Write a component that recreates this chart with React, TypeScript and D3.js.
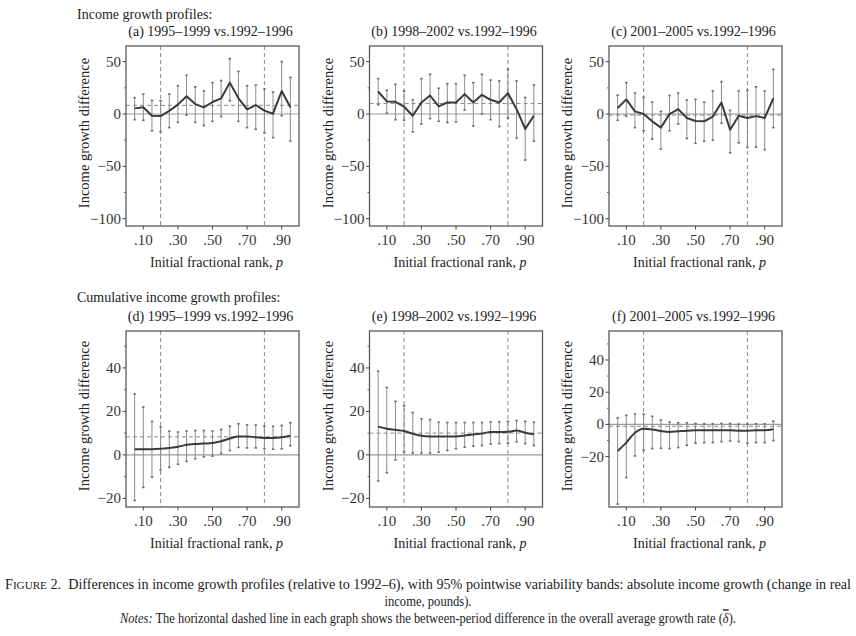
import React from "react";
import * as d3 from "d3";

// ranks p at which the profiles are evaluated
const ranks = [0.05, 0.1, 0.15, 0.2, 0.25, 0.3, 0.35, 0.4, 0.45, 0.5, 0.55, 0.6, 0.65, 0.7, 0.75, 0.8, 0.85, 0.9, 0.95];
const xTicks = [0.1, 0.3, 0.5, 0.7, 0.9];

// (a) 1995-1999 vs 1992-1996
const aMid = [5.4, 6.4, -1.6, -2, 3, 9, 17, 9.5, 6.4, 11.5, 15, 30, 15, 4.5, 8.6, 3.2, 0.3, 22, 6.4];
const aHi = [15.6, 19, 13, 12.7, 19, 27, 37, 26, 22, 30, 32, 53, 40.7, 27, 27.7, 24, 21, 50, 35];
const aLo = [-5.4, -6, -16, -17, -13, -8, -1, -8, -11, -7, -2.5, 12.7, -7, -13, -14.6, -18, -22.6, -1.6, -25.8];

// (b) 1998-2002 vs 1992-1996
const bMid = [21.5, 12, 11.7, 7, -1.6, 11, 17.7, 7.3, 11, 11, 19, 11, 18.3, 13.6, 11, 20, 4.7, -14.2, -1.6];
const bHi = [33.8, 22.7, 28.4, 22, 13.6, 33.8, 38, 24.6, 29, 29, 37, 30, 37.9, 32.5, 31.6, 42.7, 31.6, 15.8, 27.8];
const bLo = [8.8, 1, -5.4, -6, -17, -9.5, -4.4, -7, -8, -7.6, 3.8, -11.4, 0, -5.4, -12, -4, -23, -44, -26];

// (c) 2001-2005 vs 1992-1996
const cMid = [5.7, 14, 2.5, 0, -7, -13, 0, 4.7, -3.8, -6.6, -7, -2.5, 11, -15, -1.6, -3.8, -2, -3.8, 15];
const cHi = [18, 30, 20, 16, 11.4, 2.5, 17.7, 20, 13.3, 14, 11.4, 22, 31, 3.5, 22, 22.7, 26, 22, 42.7];
const cLo = [-6, -2, -13, -16, -24, -33.5, -16, -9.5, -23.4, -28, -26, -25, -8.8, -37, -27.5, -32, -31.6, -34, -13];

// (d) cumulative 1995-1999 vs 1992-1996
const dMid = [2.6, 2.6, 2.6, 2.8, 3.2, 3.7, 4.6, 5, 5.2, 5.5, 6.3, 7.5, 8.5, 8.5, 8.1, 7.8, 7.8, 8.1, 8.8];
const dHi = [28, 22, 15.4, 12.8, 10.9, 10.5, 11, 11.2, 11.2, 11, 11.7, 13.2, 14.3, 13.8, 13.7, 13.2, 13.1, 13.5, 14.8];
const dLo = [-21, -15, -10.3, -6.9, -5.7, -4.3, -3, -1.8, -0.9, -0.6, 0.6, 2, 3.4, 3.2, 3.2, 2.8, 2.6, 2.8, 4.2];

// (e) cumulative 1998-2002 vs 1992-1996
const eMid = [13, 12, 11.5, 11, 9.7, 8.8, 8.5, 8.5, 8.5, 8.5, 8.9, 9.4, 9.8, 10.5, 10.5, 10.6, 11.2, 10.2, 9.5];
const eHi = [38.5, 31, 24.6, 22.6, 19.5, 16.6, 16.2, 15, 14.9, 14.9, 14.9, 14.9, 14.9, 15.2, 15.2, 15.4, 15.8, 15.4, 15];
const eLo = [-12, -8.2, -2.3, 1.2, 0.8, 0.8, 0.8, 1.2, 2, 2.8, 3.5, 4, 4.3, 5, 5.2, 5.4, 6, 5.2, 4.3];

// (f) cumulative 2001-2005 vs 1992-1996
const fMid = [-16.5, -11.3, -5.2, -2.7, -3.1, -4.1, -4.7, -4.3, -3.9, -3.7, -3.7, -3.7, -3.7, -3.7, -3.9, -3.9, -3.7, -3.7, -3];
const fHi = [4, 5.6, 6.4, 6.4, 5, 2.7, 1.4, 1, 1, 0.6, 0.4, 0.4, 0.6, 0.6, 0.2, 0.2, 0.4, 0.4, 2];
const fLo = [-49.5, -33, -19.6, -16, -15, -14.8, -15, -14.4, -13, -11.7, -11.3, -11.3, -10.7, -10.3, -10.7, -11.7, -11.3, -11.3, -10];

// between-period average difference (dashed line)
const averages = [8.3, 10, -1, 8.3, 10, -1.2];
const titles = [
  "(a) 1995\u20131999 vs.1992\u20131996",
  "(b) 1998\u20132002 vs.1992\u20131996",
  "(c) 2001\u20132005 vs.1992\u20131996",
  "(d) 1995\u20131999 vs.1992\u20131996",
  "(e) 1998\u20132002 vs.1992\u20131996",
  "(f) 2001\u20132005 vs.1992\u20131996",
];
const topYTicks = [-100, -50, 0, 50];
const topMinor = [-75, -25, 25];
const cumYTicks = [-20, 0, 20, 40];
const cumMinor = [-10, 10, 30, 50];

const mids = [aMid, bMid, cMid, dMid, eMid, fMid];
const his = [aHi, bHi, cHi, dHi, eHi, fHi];
const los = [aLo, bLo, cLo, dLo, eLo, fLo];

const font = '"Liberation Serif", "Times New Roman", Times, serif';
const colLeft = [126, 369.5, 609];
const plotW = 173;
const rowTop = [46, 331];
const rowH = [180, 176];
const yDomains: [number, number][] = [
  [-107, 65], [-107, 65], [-107, 65],
  [-24, 57], [-24, 57], [-51.3, 58],
];

function Panel({ i }: { i: number }) {
  const row = i < 3 ? 0 : 1;
  const left = colLeft[i % 3];
  const top = rowTop[row];
  const h = rowH[row];
  const x = d3.scaleLinear().domain([0, 1]).range([left, left + plotW]);
  const y = d3.scaleLinear().domain(yDomains[i]).range([top + h, top]);
  const yTicks = row === 0 ? topYTicks : cumYTicks;
  const minor = row === 0 ? topMinor : cumMinor;
  const pts = ranks.map((p, k) => [p, mids[i][k]] as [number, number]);
  const line = d3
    .line<[number, number]>()
    .x((d) => x(d[0]))
    .y((d) => y(d[1]))
    .curve(row === 0 ? d3.curveLinear : d3.curveMonotoneX);
  const bottom = top + h;
  return (
    <g>
      {/* reference lines */}
      <line x1={left} x2={left + plotW} y1={y(0)} y2={y(0)} stroke="#9a9a9a" strokeWidth={1.2} />
      <line x1={left} x2={left + plotW} y1={y(averages[i])} y2={y(averages[i])} stroke="#8a8a8a" strokeWidth={1} strokeDasharray="4,3" />
      {[0.2, 0.8].map((p) => (
        <line key={p} x1={x(p)} x2={x(p)} y1={top} y2={bottom} stroke="#8a8a8a" strokeWidth={1} strokeDasharray="4,3" />
      ))}
      {/* variability bands */}
      {ranks.map((p, k) => (
        <g key={k} stroke="#6a6a6a" strokeWidth={1}>
          <line x1={x(p)} x2={x(p)} y1={y(his[i][k])} y2={y(los[i][k])} stroke="#8c8c8c" />
          <line x1={x(p) - 1.2} x2={x(p) + 1.2} y1={y(his[i][k])} y2={y(his[i][k])} strokeWidth={1.6} />
          <line x1={x(p) - 1.2} x2={x(p) + 1.2} y1={y(los[i][k])} y2={y(los[i][k])} strokeWidth={1.6} />
        </g>
      ))}
      <path d={line(pts) || ""} fill="none" stroke="#3a3a3a" strokeWidth={2} strokeLinejoin="round" />
      {/* frame */}
      <rect x={left} y={top} width={plotW} height={h} fill="none" stroke="#5a5a5a" strokeWidth={1.3} />
      {/* y axis */}
      {minor.map((t) => (
        <line key={"m" + t} x1={left - 2} x2={left} y1={y(t)} y2={y(t)} stroke="#666" />
      ))}
      {yTicks.map((t) => (
        <g key={t}>
          <line x1={left - 3.5} x2={left} y1={y(t)} y2={y(t)} stroke="#444" />
          <text x={left - 5} y={y(t) + 5} textAnchor="end" fontSize={15} fill="#333">
            {t < 0 ? "\u2212" + Math.abs(t) : t}
          </text>
        </g>
      ))}
      {/* x axis */}
      {xTicks.map((t) => (
        <g key={t}>
          <line x1={x(t)} x2={x(t)} y1={bottom} y2={bottom + 3.5} stroke="#444" />
          <text x={x(t)} y={bottom + 19} textAnchor="middle" fontSize={15} fill="#333">
            {"." + Math.round(t * 100)}
          </text>
        </g>
      ))}
      <text x={left + plotW / 2 - 2} y={top - 10} textAnchor="middle" fontSize={14} fill="#222">
        {titles[i]}
      </text>
      <text x={left + plotW / 2 + 4} y={bottom + 41} textAnchor="middle" fontSize={14} fill="#222">
        Initial fractional rank, <tspan fontStyle="italic">p</tspan>
      </text>
      <text
        transform={`translate(${left - 37},${top + h / 2 - 3}) rotate(-90)`}
        textAnchor="middle"
        fontSize={14.5}
        fill="#222"
      >
        Income growth difference
      </text>
    </g>
  );
}

export default function App() {
  return (
    <svg
      width={856}
      height={636}
      style={{ position: "absolute", left: 0, top: 0, background: "#fff", fontFamily: font }}
    >
      <rect width={856} height={636} fill="#fff" />
      <text x={77} y={19} fontSize={14} fill="#222">Income growth profiles:</text>
      <text x={77} y={302} fontSize={14} fill="#222">Cumulative income growth profiles:</text>
      {[0, 1, 2, 3, 4, 5].map((i) => (
        <Panel key={i} i={i} />
      ))}
      <text x={5} y={589} fontSize={14} fill="#222" textLength={846} lengthAdjust="spacingAndGlyphs">
        F<tspan fontSize={11}>IGURE</tspan>{" 2.\u2002Differences in income growth profiles (relative to 1992\u20136), with 95% pointwise variability bands: absolute income growth (change in real"}
      </text>
      <text x={428} y={606} fontSize={14} fill="#222" textAnchor="middle" transform="translate(428,0) scale(0.9,1) translate(-428,0)">
        income, pounds).
      </text>
      <text x={428} y={623} fontSize={14} fill="#222" textAnchor="middle" transform="translate(428,0) scale(0.89,1) translate(-428,0)">
        <tspan fontStyle="italic">Notes:</tspan>
        {" The horizontal dashed line in each graph shows the between-period difference in the overall average growth rate ("}
        <tspan fontStyle="italic" style={{ textDecoration: "overline" }}>{"\u03b4"}</tspan>
        {")."}
      </text>
    </svg>
  );
}
